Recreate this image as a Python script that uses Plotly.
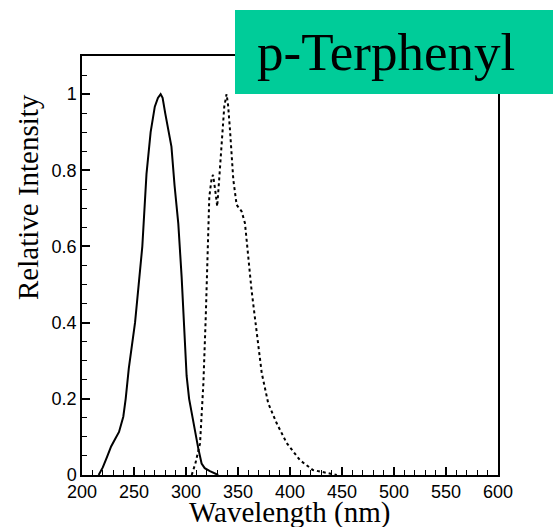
import plotly.graph_objects as go

# Absorption spectrum (solid)
abs_wl = [216, 220, 224, 228, 232, 235.6, 239.7, 242, 245, 248, 251, 254.5, 258, 262, 266, 270, 273,
          275.6, 277.5, 280, 283, 286, 289, 292.6, 295.8, 298, 300.6, 303, 307, 311.8, 315, 318, 323, 331]
abs_val = [0, 0.02, 0.047, 0.075, 0.095, 0.113, 0.153, 0.2, 0.28, 0.34, 0.4, 0.5, 0.6, 0.79, 0.9, 0.967, 0.99,
           1.0, 0.99, 0.95, 0.905, 0.862, 0.76, 0.66, 0.52, 0.4, 0.26, 0.2, 0.137, 0.07, 0.03, 0.018, 0.01, 0]

# Emission spectrum (dotted)
em_wl = [305.5, 309, 313.5, 316.7, 319, 320, 321, 322.4, 324.7, 326, 328, 330, 332, 334.3, 336.8, 339,
         340.5, 342.3, 345.5, 348.7, 353.5, 356.7, 359, 361.5, 363, 365.5, 368, 372.8, 379, 387, 396.8,
         409.6, 422, 438, 445]
em_val = [0, 0.03, 0.083, 0.24, 0.416, 0.512, 0.6, 0.73, 0.78, 0.788, 0.75, 0.705, 0.78, 0.862, 0.967, 1.0,
          0.97, 0.906, 0.775, 0.709, 0.692, 0.661, 0.59, 0.512, 0.486, 0.43, 0.373, 0.268, 0.189, 0.137, 0.084,
          0.039, 0.013, 0.003, 0]

title_text = "p-Terphenyl"
x_title = "Wavelength (nm)"
y_title = "Relative Intensity"

fig = go.Figure()
fig.add_trace(go.Scatter(x=abs_wl, y=abs_val, mode="lines",
                         line=dict(color="black", width=2), showlegend=False))
fig.add_trace(go.Scatter(x=em_wl, y=em_val, mode="lines",
                         line=dict(color="black", width=2, dash="dot"), showlegend=False))

axis_common = dict(showline=True, linecolor="black", linewidth=1.5, mirror=True,
                   ticks="inside", ticklen=8, tickwidth=1.5, tickcolor="black",
                   showgrid=False, zeroline=False,
                   tickfont=dict(family="Liberation Sans, Arial, sans-serif", size=18, color="black"))

fig.update_xaxes(range=[200, 600], dtick=50, tick0=200,
                 minor=dict(dtick=10, ticks="inside", ticklen=5, tickwidth=1.2, tickcolor="black"),
                 **axis_common)
fig.update_yaxes(range=[0, 1.1], dtick=0.2, tick0=0,
                 minor=dict(dtick=0.05, ticks="inside", ticklen=5, tickwidth=1.2, tickcolor="black"),
                 **axis_common)

W, H = 556, 527
L, R, T, B = 82, 58, 56, 52
pw, ph = W - L - R, H - T - B

def px2x(px):
    return (px - L) / pw

def py2y(py):
    return (H - B - py) / ph

fig.add_shape(type="rect", xref="paper", yref="paper",
              x0=px2x(235), x1=px2x(553), y0=py2y(94), y1=py2y(10),
              fillcolor="#00CC99", line=dict(width=0), layer="above")

fig.add_annotation(text=title_text, xref="paper", yref="paper",
                   x=px2x(255), y=py2y(52), xanchor="left", yanchor="middle",
                   showarrow=False,
                   font=dict(family="Liberation Serif, Times New Roman, serif", size=53, color="black"))

fig.add_annotation(text=x_title, xref="paper", yref="paper",
                   x=px2x(289), y=py2y(512), xanchor="center", yanchor="middle",
                   showarrow=False,
                   font=dict(family="Liberation Serif, Times New Roman, serif", size=29, color="black"))

fig.add_annotation(text=y_title, xref="paper", yref="paper",
                   x=px2x(28), y=py2y(197), xanchor="center", yanchor="middle",
                   textangle=-90, showarrow=False,
                   font=dict(family="Liberation Serif, Times New Roman, serif", size=29, color="black"))

fig.update_layout(width=W, height=H, margin=dict(l=L, r=R, t=T, b=B),
                  paper_bgcolor="white", plot_bgcolor="white")

fig.write_html("out.html", config={"displayModeBar": False},
               post_script="document.body.style.margin='0';document.body.style.overflow='hidden';")
